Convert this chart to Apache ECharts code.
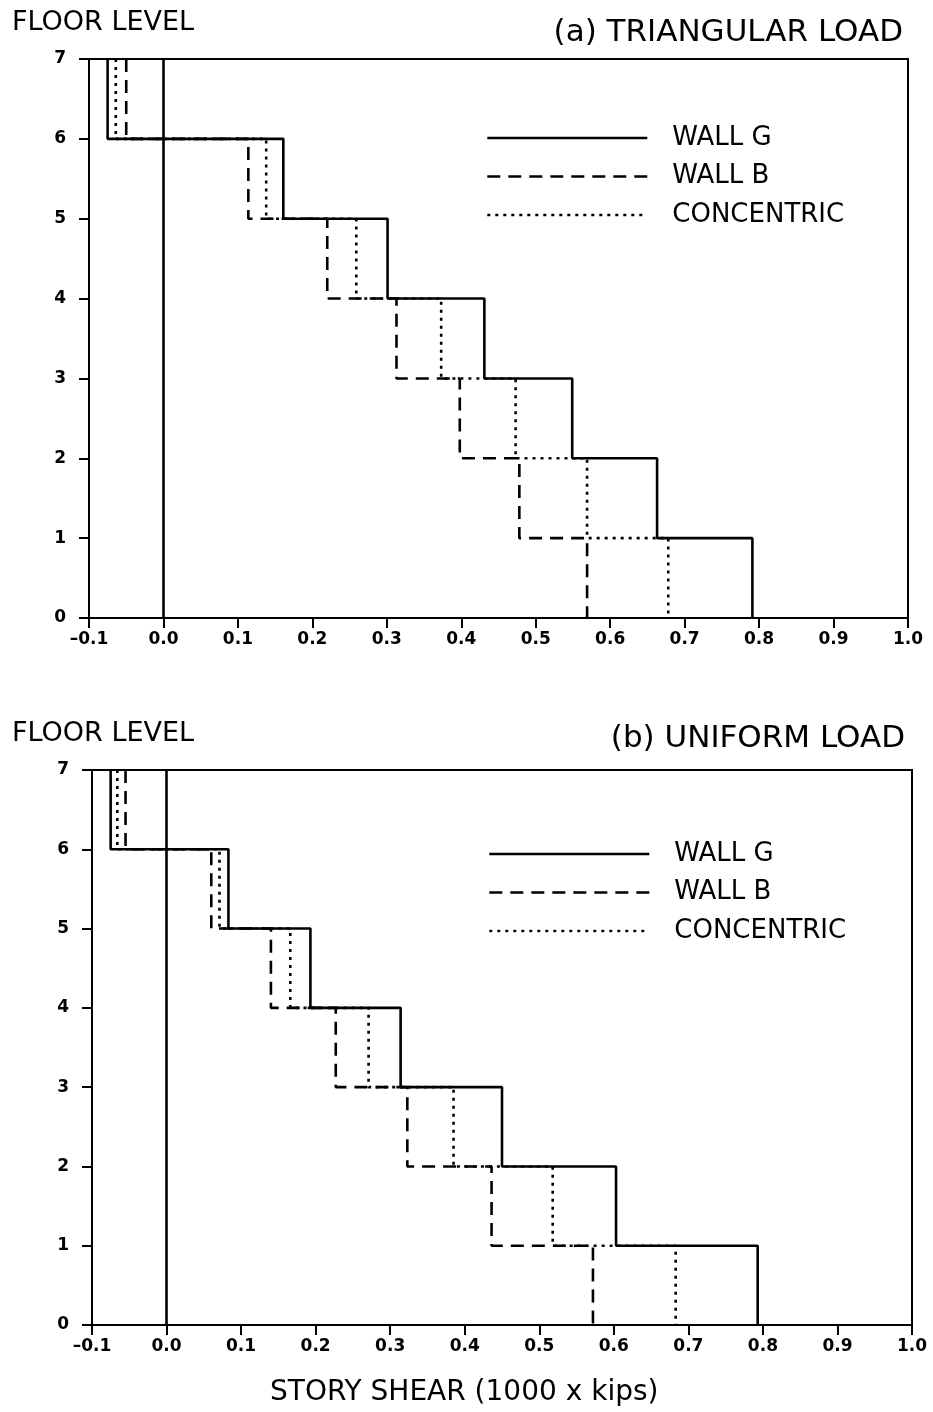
<!DOCTYPE html>
<html>
<head>
<meta charset="utf-8">
<title>Story shear distribution</title>
<script src="https://cdn.jsdelivr.net/npm/echarts@6/dist/echarts.min.js"></script>
<style>
  html, body { margin: 0; padding: 0; background: #ffffff; }
  #chart { width: 933px; height: 1412px; }
</style>
</head>
<body>
<div id="chart"></div>
<script>
// Story shear per floor (floor 1 = between levels 0 and 1 ... floor 7 = between 6 and 7)
const floors = [1, 2, 3, 4, 5, 6, 7];

// (a) triangular load
const wallG_tri = [0.791, 0.663, 0.549, 0.431, 0.301, 0.161, -0.075];
const wallB_tri = [0.569, 0.478, 0.398, 0.313, 0.220, 0.114, -0.050];
const concentric_tri = [0.678, 0.569, 0.473, 0.373, 0.259, 0.138, -0.064];

// (b) uniform load
const wallG_uni = [0.793, 0.603, 0.450, 0.314, 0.193, 0.083, -0.075];
const wallB_uni = [0.572, 0.436, 0.323, 0.227, 0.140, 0.060, -0.055];
const concentric_uni = [0.683, 0.518, 0.385, 0.271, 0.166, 0.071, -0.066];

const xTicks = { min: -0.1, max: 1.0, step: 0.1 };
const yTicks = { min: 0, max: 7, step: 1 };

const seriesNames = ['WALL G', 'WALL B', 'CONCENTRIC'];

// Turn per-floor shears into a stepped profile running from the roof down to the base
function stepProfile(values) {
  const pts = [];
  for (let i = floors.length - 1; i >= 0; i--) {
    const top = floors[i];
    pts.push([values[i], top]);
    pts.push([values[i], top - 1]);
  }
  return pts;
}

const INK = '#000000';
const FONT = '"DejaVu Sans", "Liberation Sans", sans-serif';
const styles = {
  'WALL G': { type: 'solid', width: 2.6 },
  'WALL B': { type: [13, 8], width: 2.6 },
  'CONCENTRIC': { type: [3, 5], width: 2.6 }
};

function fmtX(v) {
  const r = Math.round(v * 10) / 10;
  return (r < 0 ? '\u2013' : '') + Math.abs(r).toFixed(1);
}

function makeX(gridIndex) {
  return {
    type: 'value', gridIndex,
    min: xTicks.min, max: xTicks.max, interval: xTicks.step,
    axisLine: { show: true, onZero: false, lineStyle: { color: INK, width: 2 } },
    axisTick: { show: true, inside: false, length: 10, lineStyle: { color: INK, width: 2 } },
    axisLabel: {
      color: INK, fontFamily: FONT, fontWeight: 'bold', fontSize: 17,
      margin: 13, formatter: fmtX, showMinLabel: true, showMaxLabel: true
    },
    splitLine: { show: false }
  };
}

function makeY(gridIndex) {
  return {
    type: 'value', gridIndex,
    min: yTicks.min, max: yTicks.max, interval: yTicks.step,
    axisLine: { show: true, onZero: false, lineStyle: { color: INK, width: 2 } },
    axisTick: { show: true, inside: false, length: 10, lineStyle: { color: INK, width: 2 } },
    axisLabel: {
      color: INK, fontFamily: FONT, fontWeight: 'bold', fontSize: 17,
      margin: 23, formatter: v => String(Math.round(v))
    },
    splitLine: { show: false }
  };
}

function makeSeries(gridIndex, name, values) {
  const s = {
    type: 'line', name,
    xAxisIndex: gridIndex, yAxisIndex: gridIndex,
    data: stepProfile(values),
    symbol: 'none', silent: true, animation: false,
    lineStyle: { color: INK, width: styles[name].width, type: styles[name].type, cap: 'butt' },
    itemStyle: { color: INK },
    z: 3
  };
  if (name === 'WALL G') {
    // zero-shear reference line
    s.markLine = {
      silent: true, symbol: 'none', animation: false,
      label: { show: false },
      lineStyle: { color: INK, width: 2.6, type: 'solid' },
      data: [{ xAxis: 0 }]
    };
  }
  return s;
}

function makeLegend(left, top) {
  return {
    orient: 'vertical', left, top,
    data: seriesNames,
    itemWidth: 160, itemHeight: 26, itemGap: 12.5,
    selectedMode: false,
    itemStyle: { opacity: 0 },
    lineStyle: { width: 2.6 },
    textStyle: {
      color: INK, fontFamily: FONT, fontSize: 26,
      padding: [0, 0, 0, 20]
    }
  };
}

const titleFont = { color: INK, fontFamily: FONT, fontWeight: 'normal' };

const option = {
  backgroundColor: '#ffffff',
  animation: false,
  title: [
    { text: 'FLOOR LEVEL', left: 12, top: 9, padding: 0, textStyle: Object.assign({ fontSize: 27 }, titleFont) },
    { text: '(a) TRIANGULAR LOAD', right: 30, top: 17, padding: 0, textStyle: Object.assign({ fontSize: 31 }, titleFont) },
    { text: 'FLOOR LEVEL', left: 12, top: 720, padding: 0, textStyle: Object.assign({ fontSize: 27 }, titleFont) },
    { text: '(b) UNIFORM LOAD', right: 28, top: 723, padding: 0, textStyle: Object.assign({ fontSize: 31 }, titleFont) },
    { text: 'STORY SHEAR (1000 x kips)', left: 270, top: 1379, padding: 0, textStyle: Object.assign({ fontSize: 28 }, titleFont) }
  ],
  legend: [makeLegend(481, 120), makeLegend(483, 836)],
  grid: [
    { left: 89, top: 59, width: 819, height: 559, show: true, borderColor: INK, borderWidth: 2, backgroundColor: 'transparent' },
    { left: 92, top: 770, width: 820, height: 555, show: true, borderColor: INK, borderWidth: 2, backgroundColor: 'transparent' }
  ],
  xAxis: [makeX(0), makeX(1)],
  yAxis: [makeY(0), makeY(1)],
  series: [
    makeSeries(0, 'WALL G', wallG_tri),
    makeSeries(0, 'WALL B', wallB_tri),
    makeSeries(0, 'CONCENTRIC', concentric_tri),
    makeSeries(1, 'WALL G', wallG_uni),
    makeSeries(1, 'WALL B', wallB_uni),
    makeSeries(1, 'CONCENTRIC', concentric_uni)
  ]
};

const chart = echarts.init(document.getElementById('chart'), null, { renderer: 'canvas', width: 933, height: 1412 });
chart.setOption(option);
</script>
</body>
</html>
